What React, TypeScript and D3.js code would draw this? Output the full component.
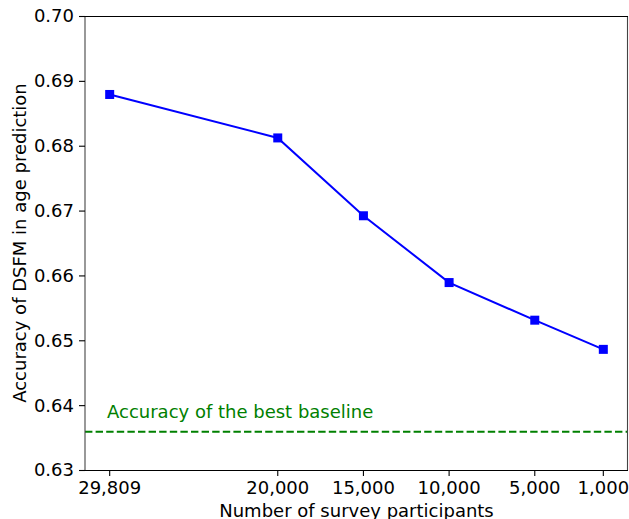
import React from "react";
import * as d3 from "d3";

const participants = [29809, 20000, 15000, 10000, 5000, 1000];
const accuracy = [0.6879, 0.6812, 0.6692, 0.6589, 0.6531, 0.6486];
const baselineAccuracy = 0.6359;
const baselineLabel = "Accuracy of the best baseline";
const yTicks = [0.63, 0.64, 0.65, 0.66, 0.67, 0.68, 0.69, 0.7];
const xTicks = [29809, 20000, 15000, 10000, 5000, 1000];
const xLabel = "Number of survey participants";
const yLabel = "Accuracy of DSFM in age prediction";

const W = 629;
const H = 519;
const left = 85;
const right = 628;
const top = 16;
const bottom = 470;
const font = "'DejaVu Sans', sans-serif";

export default function App() {
  const xmin = d3.min(participants)!;
  const xmax = d3.max(participants)!;
  const pad = (xmax - xmin) * 0.05;
  const x = d3.scaleLinear().domain([xmax + pad, xmin - pad]).range([left, right]);
  const y = d3.scaleLinear().domain([0.63, 0.7]).range([bottom, top]);
  const fmt = d3.format(",");
  const pts = participants.map((p, i) => [x(p), y(accuracy[i])] as [number, number]);
  const line = d3.line()(pts) || "";
  const ms = 9;

  return (
    <svg width={W} height={H} style={{ position: "absolute", left: 0, top: 0, background: "#fff" }} fontFamily={font}>
      <rect x={0} y={0} width={W} height={H} fill="#fff" />
      {/* baseline */}
      <line x1={left} x2={right} y1={y(baselineAccuracy)} y2={y(baselineAccuracy)} stroke="#008000" strokeWidth={2} strokeDasharray="7.4,3.2" />
      <text x={107} y={y(baselineAccuracy) - 13.5} fill="#008000" fontSize={18}>{baselineLabel}</text>
      {/* data line */}
      <path d={line} fill="none" stroke="#0000ff" strokeWidth={2} />
      {pts.map(([px, py], i) => (
        <rect key={i} x={px - ms / 2} y={py - ms / 2} width={ms} height={ms} fill="#0000ff" />
      ))}
      {/* spines */}
      <line x1={left} x2={left} y1={top} y2={bottom} stroke="#444" strokeWidth={1.1} />
      <line x1={right - 0.5} x2={right - 0.5} y1={top} y2={bottom} stroke="#444" strokeWidth={1.1} />
      <line x1={left} x2={right} y1={top + 0.5} y2={top + 0.5} stroke="#000" strokeWidth={1.1} />
      <line x1={left} x2={right} y1={bottom + 0.5} y2={bottom + 0.5} stroke="#000" strokeWidth={1.1} />
      {/* y ticks */}
      {yTicks.map((t) => (
        <g key={t}>
          <line x1={left - 6} x2={left} y1={y(t) + 0.5} y2={y(t) + 0.5} stroke="#000" strokeWidth={1.1} />
          <text x={left - 11} y={y(t)} dy="0.36em" textAnchor="end" fontSize={18} fill="#000">{t.toFixed(2)}</text>
        </g>
      ))}
      {/* x ticks */}
      {xTicks.map((t) => (
        <g key={t}>
          <line x1={x(t)} x2={x(t)} y1={bottom} y2={bottom + 6} stroke="#000" strokeWidth={1.1} />
          <text x={x(t)} y={bottom + 24} textAnchor="middle" fontSize={18} fill="#000">{fmt(t)}</text>
        </g>
      ))}
      <text x={(left + right) / 2} y={516.5} textAnchor="middle" fontSize={18} fill="#000">{xLabel}</text>
      <text transform={`translate(25.5,${(top + bottom) / 2}) rotate(-90)`} textAnchor="middle" fontSize={18} fill="#000">{yLabel}</text>
    </svg>
  );
}
